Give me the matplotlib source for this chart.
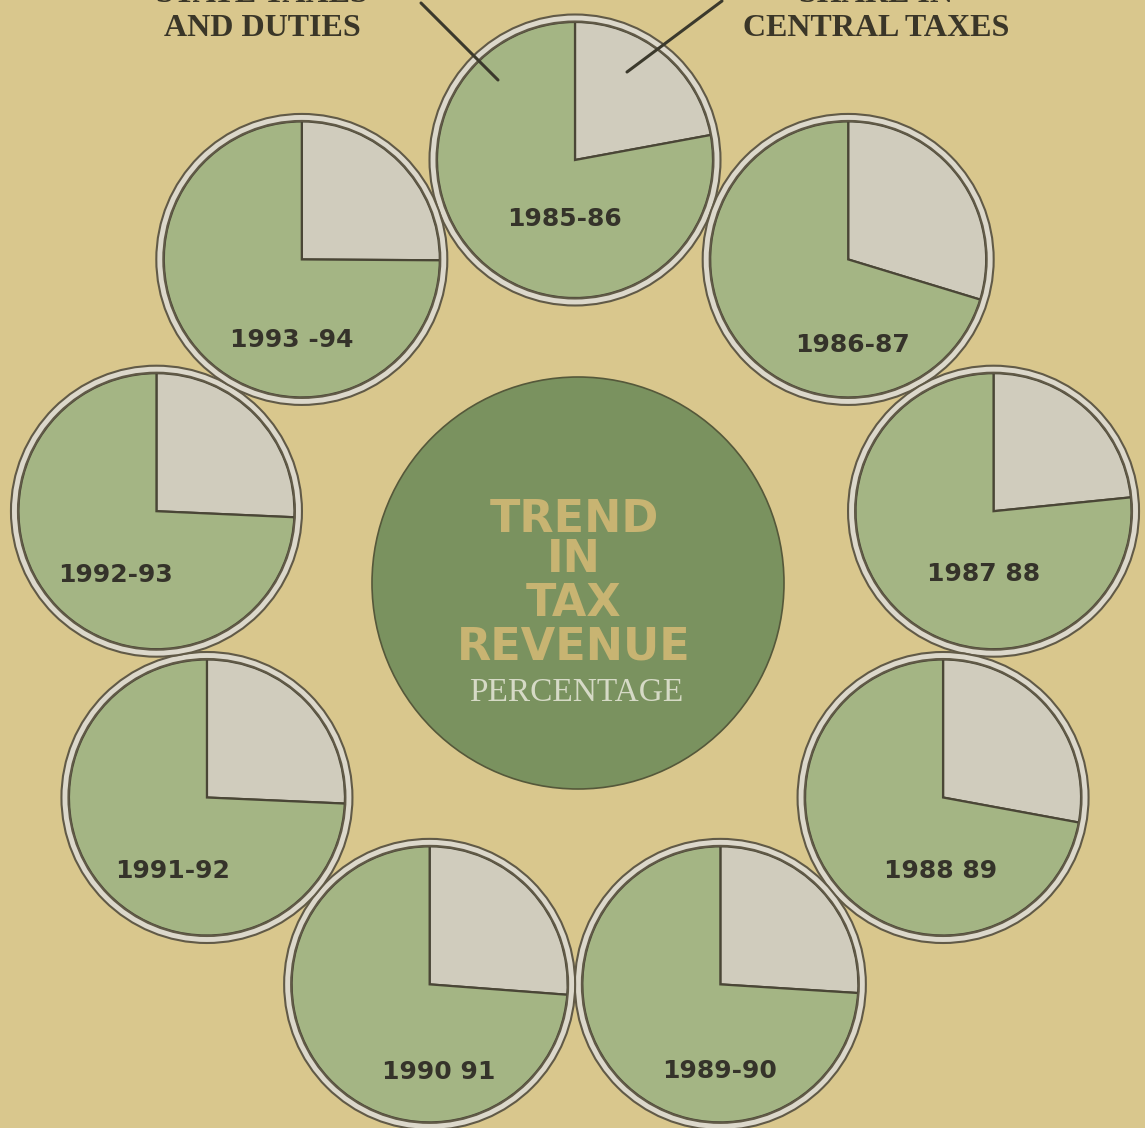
import numpy as np
import matplotlib
matplotlib.use("Agg")
import matplotlib.pyplot as plt
from matplotlib.patches import Circle

# ---------------- data ----------------
years = ["1985-86", "1986-87", "1987 88", "1988 89", "1989-90",
         "1990 91", "1991-92", "1992-93", "1993 -94"]
central_share = [22.1, 29.7, 23.4, 27.9, 26.0, 26.2, 25.7, 25.7, 25.1]
state_share = [77.9, 70.3, 76.6, 72.1, 74.0, 73.8, 74.3, 74.3, 74.9]
title_lines = ["TREND", "IN", "TAX", "REVENUE"]
subtitle = "PERCENTAGE"
left_label = ["STATE TAXES", "AND DUTIES"]
right_label = ["SHARE IN", "CENTRAL TAXES"]

# ---------------- layout (pixel units, image coordinates) ----------------
W, H = 1145, 1128
def Y(y):
    return H - y

ring_cx, ring_cy, ring_r = 575, 585, 425
pie_r = 138
label_offsets = [(-10, 59), (4, 86), (-10, 63), (-2, 73), (-1, 87),
                 (9, 88), (-34, 74), (-41, 64), (-10, 81)]

bg = "#d9c78d"
green = "#a4b584"
grey = "#d0ccbd"
dark = "#4a4636"
ringlight = "#dcd8cb"
ringdark = "#615a47"
big_green = "#7a925f"

fig = plt.figure(figsize=(W / 100, H / 100), dpi=100)
fig.patch.set_facecolor(bg)
ax = fig.add_axes([0, 0, 1, 1])
ax.set_facecolor(bg)

# central circle
bc = (578, 583)
ax.add_patch(Circle((bc[0], Y(bc[1])), 206, facecolor=big_green,
                    edgecolor="#55583a", linewidth=1.2, zorder=1))

for i, (yr, c, s) in enumerate(zip(years, central_share, state_share)):
    ang = np.deg2rad(90 - 40 * i)
    cx = ring_cx + ring_r * np.cos(ang)
    cy = ring_cy - ring_r * np.sin(ang)
    wedges, _ = ax.pie([c, s], colors=[grey, green], startangle=90,
                       counterclock=False, radius=pie_r,
                       center=(cx, Y(cy)), frame=True,
                       wedgeprops=dict(edgecolor=dark, linewidth=1.6))
    for w in wedges:
        w.set_zorder(2 + i * 0.1)
    # double ring
    ax.add_patch(Circle((cx, Y(cy)), 142, fill=False, edgecolor=ringlight,
                        linewidth=4.5, zorder=2.05 + i * 0.1))
    ax.add_patch(Circle((cx, Y(cy)), 145.5, fill=False, edgecolor=ringdark,
                        linewidth=1.5, zorder=2.06 + i * 0.1))
    ax.add_patch(Circle((cx, Y(cy)), 138.5, fill=False, edgecolor=ringdark,
                        linewidth=1.5, zorder=2.06 + i * 0.1))
    dx, dy = label_offsets[i]
    ax.text(cx + dx, Y(cy + dy), yr, ha="center", va="center",
            fontsize=18, fontweight="bold", color="#35332a",
            family=["Liberation Sans Narrow", "DejaVu Sans Condensed", "DejaVu Sans"],
            zorder=5)

# title in central circle
title_y = [520, 560, 603, 647]
for t, ty in zip(title_lines, title_y):
    ax.text(bc[0] - 4, Y(ty), t, ha="center", va="center", fontsize=32,
            fontweight="bold", color="#c8b472", family="DejaVu Sans", zorder=3)
ax.text(bc[0] - 2, Y(693), subtitle, ha="center", va="center", fontsize=24,
        color="#d6dac6", family=["Liberation Serif", "DejaVu Serif"], zorder=3)

# top labels (first line cut off by the page edge, as in the scan)
for j, t in enumerate(left_label):
    ax.text(262, Y(-6 + 34 * j), t, ha="center", va="center", fontsize=23,
            fontweight="bold", color="#3a3628",
            family=["Liberation Serif", "DejaVu Serif"], zorder=6)
for j, t in enumerate(right_label):
    ax.text(876, Y(-6 + 34 * j), t, ha="center", va="center", fontsize=23,
            fontweight="bold", color="#3a3628",
            family=["Liberation Serif", "DejaVu Serif"], zorder=6)

# pointer lines
ax.plot([421, 498], [Y(3), Y(80)], color="#3b392c", linewidth=2.2,
        solid_capstyle="round", zorder=6)
ax.plot([722, 627], [Y(1), Y(72)], color="#3b392c", linewidth=2.2,
        solid_capstyle="round", zorder=6)

ax.set_xlim(0, W)
ax.set_ylim(0, H)
ax.set_aspect("equal", adjustable="box")
ax.axis("off")

fig.savefig("out.png", dpi=100, facecolor=bg)
